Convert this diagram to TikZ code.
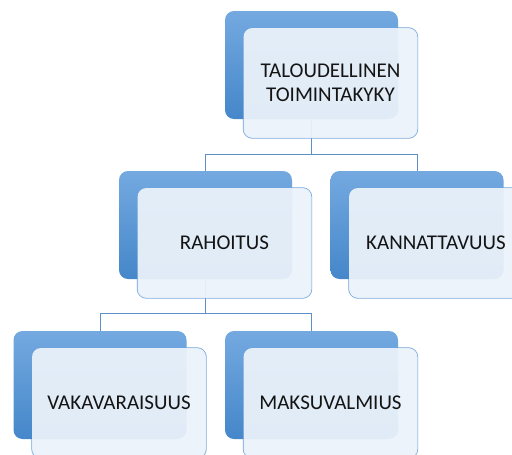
\documentclass[tikz,border=0pt]{standalone}
\usepackage{fontspec}
\setmainfont{Carlito}
\usetikzlibrary{positioning}

\definecolor{backtop}{HTML}{74A9E0}
\definecolor{backbot}{HTML}{4587CA}
\definecolor{frontfill}{HTML}{EBF2FA}
\definecolor{frontline}{HTML}{6FA3DC}
\definecolor{linkline}{HTML}{5E8FC6}

\begin{document}
\begin{tikzpicture}[x=1pt, y=-1pt,
  frame/.style={rectangle, rounded corners=9pt, minimum width=174pt, minimum height=110pt,
    draw=frontline, line width=1.4pt, inner sep=0pt},
  backbox/.style={rectangle, rounded corners=9pt, minimum width=173pt, minimum height=108pt,
    top color=backtop, bottom color=backbot, draw=none, inner sep=0pt},
  frontbox/.style={rectangle, rounded corners=9pt, minimum width=174pt, minimum height=110pt,
    fill=frontfill, fill opacity=0.94, text opacity=1, text=black!92, align=center,
    font=\fontsize{21}{24}\selectfont, inner sep=0pt},
  link/.style={draw=linkline, line width=0.9pt}]
  \useasboundingbox (0,0) rectangle (512,455);

  % outlines of the front boxes
  \node[frame] (talframe) at (330.5,83) {};
  \node[frame] (rahframe) at (224.5,243) {};
  \node[frame] (kanframe) at (436,243) {};
  \node[frame] (vakframe) at (119,403) {};
  \node[frame] (makframe) at (330.5,403) {};

  % back boxes
  \node[backbox] (talback) at ([shift={(-19,-18)}]talframe.center) {};
  \node[backbox] (rahback) at ([shift={(-19,-18)}]rahframe.center) {};
  \node[backbox] (kanback) at ([shift={(-19,-18)}]kanframe.center) {};
  \node[backbox] (vakback) at ([shift={(-19,-18)}]vakframe.center) {};
  \node[backbox] (makback) at ([shift={(-19,-18)}]makframe.center) {};

  % connectors
  \coordinate (tjoin) at (311.5,154);
  \coordinate (rjoin) at (205.5,313);
  \draw[link] (talback.south) -- (tjoin) -| (rahback.north);
  \draw[link] (tjoin) -| (kanback.north);
  \draw[link] (rahback.south) -- (rjoin) -| (vakback.north);
  \draw[link] (rjoin) -| (makback.north);

  % front boxes
  \node[frontbox] (tal) at (talframe.center) {TALOUDELLINEN\\TOIMINTAKYKY};
  \node[frontbox] (rah) at (rahframe.center) {RAHOITUS};
  \node[frontbox] (kan) at (kanframe.center) {KANNATTAVUUS};
  \node[frontbox] (vak) at (vakframe.center) {VAKAVARAISUUS};
  \node[frontbox] (mak) at (makframe.center) {MAKSUVALMIUS};
\end{tikzpicture}
\end{document}
